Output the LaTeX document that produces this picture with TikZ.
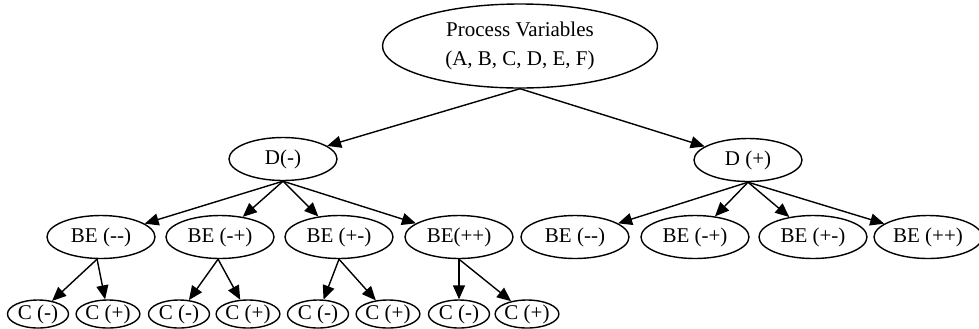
\documentclass[tikz,border=0pt]{standalone}
\usepackage{fontspec}
\setmainfont{Liberation Serif}
\usetikzlibrary{shapes.geometric,arrows.meta}

\begin{document}
\begin{tikzpicture}[x=0.5pt,y=-0.5pt,align=center]
\tikzstyle{bubble} = [ellipse, inner sep=0pt, draw=black, line width=0.7pt, font=\fontsize{10.5}{14.5}\selectfont]
\tikzstyle{big} = [bubble, minimum width=137.5pt, minimum height=42pt]
\tikzstyle{mid} = [bubble, minimum width=54pt, minimum height=21.5pt]
\tikzstyle{small} = [bubble, minimum width=30.5pt, minimum height=14pt]
\tikzstyle{arrow} = [line width=0.7pt,-{Triangle[length=7pt,width=6pt]}]
\useasboundingbox (0,0) rectangle (979,328);
    \path
        (520, 46) node[big] (vars) {Process Variables\\(A, B, C, D, E, F)}
        (283, 159) node[mid] (dminus) {D(-)}
        (748, 160) node[mid] (dplus) {D (+)}
        (101, 237) node[mid] (bemm) {BE ({-}{-})}
        (220, 237) node[mid] (bemp) {BE (-+)}
        (339, 237) node[mid] (bepm) {BE (+-)}
        (459, 237) node[mid] (bepp) {BE(++)}
        (575, 237) node[mid] (bemm2) {BE ({-}{-})}
        (695, 237) node[mid] (bemp2) {BE (-+)}
        (813, 237) node[mid] (bepm2) {BE (+-)}
        (928, 237) node[mid] (bepp2) {BE (++)}
        (38, 314) node[small] (cm1) {C (-)}
        (108, 314) node[small] (cp1) {C (+)}
        (179, 314) node[small] (cm2) {C (-)}
        (248, 314) node[small] (cp2) {C (+)}
        (318, 314) node[small] (cm3) {C (-)}
        (388, 314) node[small] (cp3) {C (+)}
        (459, 314) node[small] (cm4) {C (-)}
        (527, 314) node[small] (cp4) {C (+)};

        \draw [arrow] (vars.south) -- (dminus);
        \draw [arrow] (vars.south) -- (dplus);
        \draw [arrow] (dminus.south) -- (bemm);
        \draw [arrow] (dminus.south) -- (bemp);
        \draw [arrow] (dminus.south) -- (bepm);
        \draw [arrow] (dminus.south) -- (bepp);
        \draw [arrow] (dplus.south) -- (bemm2);
        \draw [arrow] (dplus.south) -- (bemp2);
        \draw [arrow] (dplus.south) -- (bepm2);
        \draw [arrow] (dplus.south) -- (bepp2);
        \draw [arrow] (bemm.-100) -- (cm1);
        \draw [arrow] (bemm.-100) -- (cp1);
        \draw [arrow] (bemp.-95) -- (cm2);
        \draw [arrow] (bemp.-95) -- (cp2);
        \draw [arrow] (bepm.south) -- (cm3);
        \draw [arrow] (bepm.south) -- (cp3);
        \draw [arrow] (bepp.south) -- (cm4);
        \draw [arrow] (bepp.south) -- (cp4);
\end{tikzpicture}
\end{document}
